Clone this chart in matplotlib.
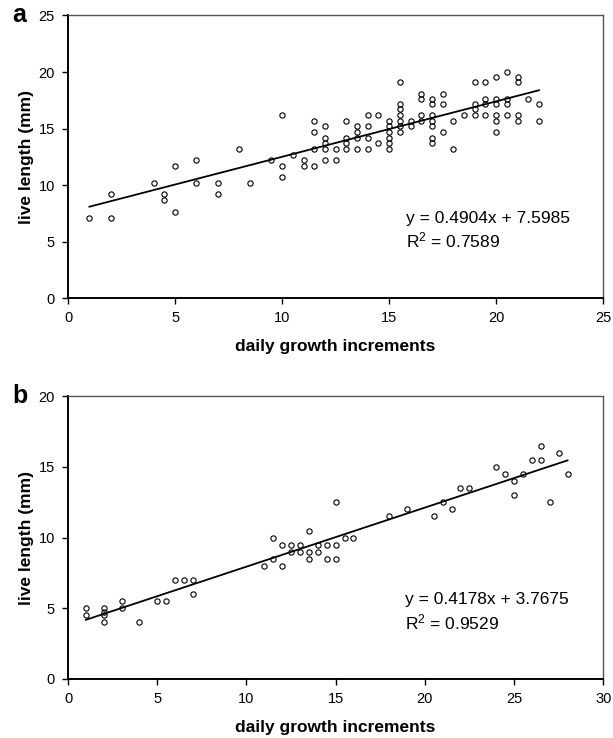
import numpy as np
import matplotlib
matplotlib.use("Agg")
import matplotlib.pyplot as plt

plt.rcParams['font.family'] = ['Liberation Sans', 'DejaVu Sans']
plt.rcParams['mathtext.fontset'] = 'custom'
plt.rcParams['mathtext.rm'] = 'Liberation Sans'
plt.rcParams['mathtext.it'] = 'Liberation Sans:italic'

# panel a: daily growth increments vs live length (mm)
a_x = [1, 2, 2, 4, 4.5, 4.5, 5, 5, 6, 6, 7, 7, 8, 8.5, 9.5,
       10, 10, 10, 10.5, 11, 11,
       11.5, 11.5, 11.5, 11.5,
       12, 12, 12, 12, 12,
       12.5, 12.5,
       13, 13, 13, 13,
       13.5, 13.5, 13.5, 13.5,
       14, 14, 14, 14,
       14.5, 14.5,
       15, 15, 15, 15, 15, 15,
       15.5, 15.5, 15.5, 15.5, 15.5, 15.5, 15.5,
       16, 16,
       16.5, 16.5, 16.5, 16.5,
       17, 17, 17, 17, 17, 17, 17,
       17.5, 17.5, 17.5,
       18, 18, 18.5,
       19, 19, 19, 19,
       19.5, 19.5, 19.5, 19.5,
       20, 20, 20, 20, 20, 20,
       20.5, 20.5, 20.5, 20.5,
       21, 21, 21, 21,
       21.5, 22, 22]
a_y = [7.1, 9.2, 7.1, 10.2, 9.2, 8.7, 11.7, 7.6, 12.2, 10.2, 10.2, 9.2, 13.2, 10.2, 12.2,
       16.2, 11.7, 10.7, 12.7, 12.2, 11.7,
       15.7, 14.7, 13.2, 11.7,
       15.2, 14.2, 13.7, 13.2, 12.2,
       13.2, 12.2,
       15.7, 14.2, 13.7, 13.2,
       15.2, 14.7, 14.2, 13.2,
       16.2, 15.2, 14.2, 13.2,
       16.2, 13.7,
       15.7, 15.2, 14.7, 14.2, 13.7, 13.2,
       19.1, 17.2, 16.7, 16.2, 15.7, 15.2, 14.7,
       15.7, 15.2,
       18.1, 17.6, 16.2, 15.7,
       17.6, 17.2, 16.2, 15.7, 15.2, 14.2, 13.7,
       18.1, 17.2, 14.7,
       15.7, 13.2, 16.2,
       19.1, 17.2, 16.7, 16.2,
       19.1, 17.6, 17.2, 16.2,
       19.6, 17.6, 17.2, 16.2, 15.7, 14.7,
       20.0, 17.6, 17.2, 16.2,
       19.6, 19.1, 16.2, 15.7,
       17.6, 17.2, 15.7]
a_fit = (0.4904, 7.5985, 0.7589)

# panel b
b_x = [1, 1, 2, 2, 2, 2, 3, 3, 4, 5, 5.5, 6, 6.5, 7, 7,
       11, 11.5, 11.5, 12, 12, 12.5, 12.5, 13, 13,
       13.5, 13.5, 13.5, 14, 14, 14.5, 14.5, 15, 15, 15,
       15.5, 16, 18, 19, 20.5, 21, 21.5, 22, 22.5,
       24, 24.5, 25, 25, 25.5, 26, 26.5, 26.5, 27, 27.5, 28]
b_y = [5.0, 4.5, 5.0, 4.75, 4.5, 4.0, 5.5, 5.0, 4.0, 5.5, 5.5, 7.0, 7.0, 7.0, 6.0,
       8.0, 10.0, 8.5, 9.5, 8.0, 9.5, 9.0, 9.5, 9.0,
       10.5, 9.0, 8.5, 9.5, 9.0, 9.5, 8.5, 12.5, 9.5, 8.5,
       10.0, 10.0, 11.5, 12.0, 11.5, 12.5, 12.0, 13.5, 13.5,
       15.0, 14.5, 14.0, 13.0, 14.5, 15.5, 15.5, 16.5, 12.5, 16.0, 14.5]
b_fit = (0.4178, 3.7675, 0.9529)

fig = plt.figure(figsize=(6.13, 7.38), dpi=100)
ax_a = fig.add_axes([0.111, 0.596, 0.873, 0.383])
ax_b = fig.add_axes([0.111, 0.080, 0.873, 0.383])


def draw_panel(ax, xs, ys, fit, xmax, ymax, txt_xy, letter):
    slope, icpt, r2 = fit
    ax.plot(xs, ys, 'o', mfc='none', mec='black', ms=3.8, mew=0.8, zorder=3)
    lx = np.array([min(xs), max(xs)])
    ax.plot(lx, slope * lx + icpt, color='black', lw=1.3, zorder=2)
    ax.set_xlim(0, xmax)
    ax.set_ylim(0, ymax)
    ax.set_xticks(np.arange(0, xmax + 1, 5))
    ax.set_yticks(np.arange(0, ymax + 1, 5))
    ax.tick_params(direction='out', length=4.5, width=1, labelsize=10.5, pad=5)
    for s in ['left', 'bottom']:
        ax.spines[s].set_linewidth(1.4)
        ax.spines[s].set_color('black')
    for s in ['top', 'right']:
        ax.spines[s].set_linewidth(1.0)
        ax.spines[s].set_color('#555555')
    ax.set_xlabel('daily growth increments', fontsize=12.5, fontweight='bold', labelpad=10)
    ax.set_ylabel('live length (mm)', fontsize=12.5, fontweight='bold', labelpad=3)
    tx, ty = txt_xy
    ax.text(tx, ty, 'y = {}x + {}'.format(slope, icpt), fontsize=12.5, va='center')
    ax.text(tx, ty - 0.078 * ymax, 'R$^2$ = {}'.format(r2), fontsize=12.5, va='center')
    ax.text(-0.105, 1.0, letter, transform=ax.transAxes, fontsize=18, fontweight='bold',
            ha='left', va='center')


draw_panel(ax_a, a_x, a_y, a_fit, 25, 25, (15.8, 7.07), 'a')
draw_panel(ax_b, b_x, b_y, b_fit, 30, 20, (18.9, 5.59), 'b')

fig.savefig('out.png', dpi=100)
